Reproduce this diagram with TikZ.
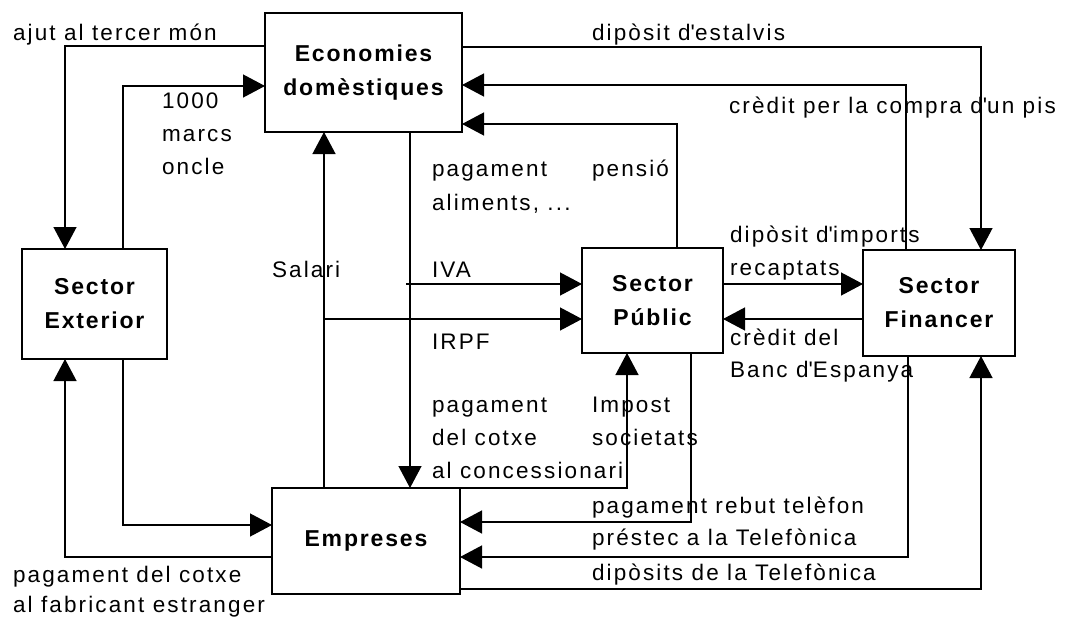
\documentclass[tikz,border=0pt]{standalone}
\usepackage{fontspec}
\setmainfont{Liberation Sans}[LetterSpace=9.5]
\newfontfamily\boxfont{Liberation Sans}[LetterSpace=8]
\usetikzlibrary{arrows.meta}
\newcommand{\apo}{\textquotesingle}
\begin{document}
\begin{tikzpicture}[x=1pt,y=-1pt,
  every node/.style={inner sep=0pt, outer sep=0pt},
  sbox/.style={draw, line width=1.3pt, fill=white, align=center,
    font=\boxfont\bfseries\fontsize{23}{34}\selectfont, anchor=north west},
  lbl/.style={anchor=base west, font=\fontsize{22.5}{33}\selectfont},
  con/.style={line width=1.3pt},
  arr/.style={con, -{Triangle[length=22pt,width=23pt]}}]
\useasboundingbox (0,0) rectangle (1069,621);
% boxes
\node[sbox, minimum width=197pt, minimum height=119pt] (econ) at (265,13) {Economies\\domèstiques};
\node[sbox, minimum width=145pt, minimum height=110pt] (ext) at (22,249) {Sector\\Exterior};
\node[sbox, minimum width=141pt, minimum height=105pt] (pub) at (582,248) {Sector\\Públic};
\node[sbox, minimum width=152pt, minimum height=106pt] (fin) at (863,250) {Sector\\Financer};
\node[sbox, minimum width=188pt, minimum height=106pt] (emp) at (272,488) {Empreses};
% free ends
\coordinate (ivaS) at (406,284);
\coordinate (irpfS) at (324,319);
% connectors
\draw[arr] (econ.west |- 0,46) -| (ext.north -| 65,0);
\draw[arr] (ext.north -| 123,0) |- (econ.west |- 0,86);
\draw[arr] (econ.east |- 0,47) -| (fin.north -| 981,0);
\draw[arr] (fin.north -| 906,0) |- (econ.east |- 0,85);
\draw[arr] (pub.north -| 677,0) |- (econ.east |- 0,124);
\draw[arr] (econ.south -| 410,0) -- (emp.north -| 410,0);
\draw[arr] (emp.north -| 324,0) -- (econ.south -| 324,0);
\draw[arr] (ivaS) -- (pub.west |- ivaS);
\draw[arr] (irpfS) -- (pub.west |- irpfS);
\draw[arr] (pub.east |- 0,284) -- (fin.west |- 0,284);
\draw[arr] (fin.west |- 0,319) -- (pub.east |- 0,319);
\draw[arr] (emp.north east) -| (pub.south -| 627,0);
\draw[arr] (pub.south -| 691,0) |- (emp.east |- 0,522);
\draw[arr] (fin.south -| 908,0) |- (emp.east |- 0,557);
\draw[arr] (emp.east |- 0,589) -| (fin.south -| 981,0);
\draw[arr] (ext.south -| 123,0) |- (emp.west |- 0,525);
\draw[arr] (emp.west |- 0,557) -| (ext.south -| 65,0);
% labels
\node[lbl] (l1) at (13,40) {ajut al tercer món};
\node[lbl] (l2a) at (162,108) {1000};
\node[lbl] (l2b) at (162,141) {marcs};
\node[lbl] (l2c) at (162,174) {oncle};
\node[lbl] (l3) at (592,40) {dipòsit d\apo estalvis};
\node[lbl] (l4) at (729,113) {crèdit per la compra d\apo un pis};
\node[lbl] (l5a) at (432,176) {pagament};
\node[lbl] (l5b) at (432,210) {aliments, ...};
\node[lbl] (l6) at (592,176) {pensió};
\node[lbl] (l7a) at (730,242) {dipòsit d\apo imports};
\node[lbl] (l7b) at (730,275) {recaptats};
\node[lbl] (l8) at (272,277) {Salari};
\node[lbl] (l9) at (432,277) {IVA};
\node[lbl] (l10) at (432,349) {IRPF};
\node[lbl] (l11a) at (730,345) {crèdit del};
\node[lbl] (l11b) at (730,377) {Banc d\apo Espanya};
\node[lbl] (l12a) at (432,412) {pagament};
\node[lbl] (l12b) at (432,445) {del cotxe};
\node[lbl] (l12c) at (432,478) {al concessionari};
\node[lbl] (l13a) at (592,412) {Impost};
\node[lbl] (l13b) at (592,445) {societats};
\node[lbl] (l14) at (592,513) {pagament rebut telèfon};
\node[lbl] (l15) at (592,545) {préstec a la Telefònica};
\node[lbl] (l16) at (592,580) {dipòsits de la Telefònica};
\node[lbl] (l17a) at (13,582) {pagament del cotxe};
\node[lbl] (l17b) at (13,612) {al fabricant estranger};
\end{tikzpicture}
\end{document}
